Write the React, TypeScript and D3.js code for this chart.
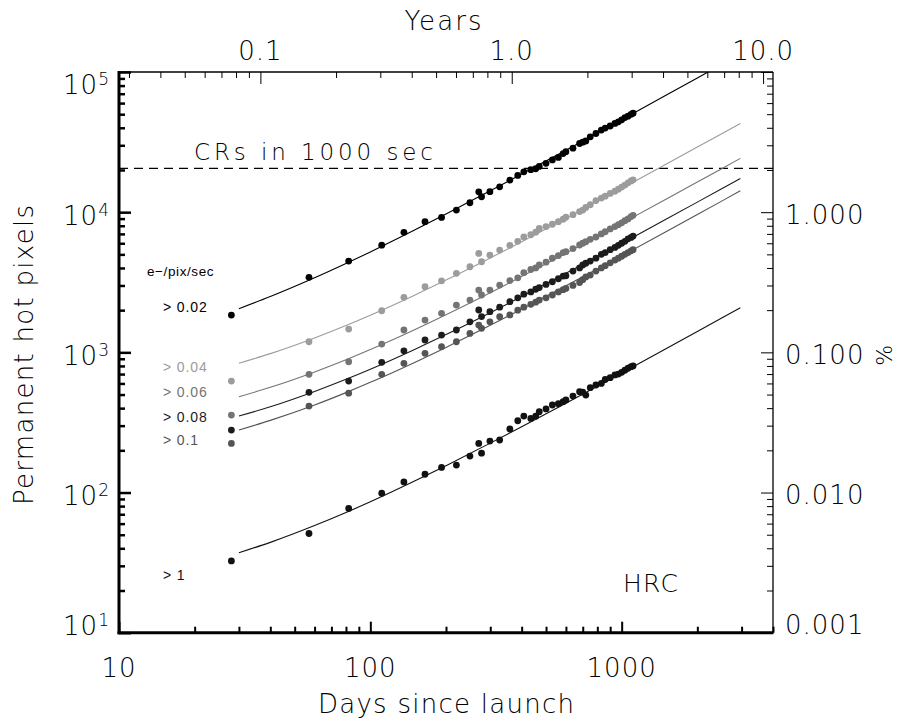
import React, { useEffect, useRef } from 'react';
import * as d3 from 'd3';

// observation epochs (days since launch), shared by all thresholds
const days = [28, 57, 82, 111, 136, 165, 192, 220, 249, 270, 277, 299, 327, 359, 386, 408, 435, 455, 470, 500,
  530, 560, 585, 600, 640, 680, 700, 720, 750, 790, 830, 860, 900, 940, 970, 1000, 1030, 1060, 1090, 1110];

// permanent hot pixel counts per threshold
const hot002 = [1845, 3430, 4480, 5820, 7180, 8550, 9180, 10350, 11670, 13970, 12880, 14000, 15170, 16940, 18300, 19400, 20100, 20400, 21200, 22300,
  23600, 24600, 26200, 27000, 28600, 30900, 31600, 32200, 34500, 36400, 38500, 39800, 41200, 43000, 44100, 45600, 47300, 48400, 49900, 50800];
const hot004 = [624, 1190, 1465, 1980, 2470, 2940, 3240, 3660, 4080, 5080, 4430, 4940, 5370, 5800, 6200, 6650, 6900, 7200, 7650, 7900,
  8200, 8550, 8900, 9200, 9600, 10100, 10350, 10800, 11300, 12100, 12600, 13000, 13600, 14100, 14600, 15100, 15600, 16200, 16700, 17000];
const hot006 = [357, 697, 857, 1146, 1443, 1700, 1897, 2175, 2360, 2780, 2565, 2780, 3020, 3250, 3400, 3700, 3900, 4000, 4200, 4400,
  4690, 4900, 5150, 5230, 5500, 5830, 6000, 6150, 6400, 6650, 7000, 7250, 7600, 7900, 8150, 8400, 8700, 8950, 9300, 9500];
const hot008 = [279, 519, 624, 849, 1026, 1225, 1329, 1443, 1652, 2005, 1800, 1950, 2100, 2300, 2450, 2600, 2700, 2820, 2900, 3050,
  3190, 3350, 3500, 3520, 3800, 4000, 4200, 4320, 4480, 4700, 5000, 5150, 5400, 5600, 5800, 6000, 6200, 6450, 6600, 6750];
const hot01 = [224, 414, 511, 697, 835, 984, 1097, 1190, 1365, 1566, 1483, 1652, 1794, 1850, 2000, 2100, 2200, 2280, 2360, 2450,
  2565, 2700, 2800, 2860, 3000, 3150, 3300, 3450, 3560, 3800, 4000, 4150, 4350, 4550, 4700, 4850, 5000, 5150, 5300, 5400];
const hot1 = [32.5, 51, 77, 99, 119, 135, 151, 157, 182, 224, 191, 233, 237, 284, 325, 351, 338, 350, 377, 395,
  421, 430, 445, 457, 488, 524, 520, 496, 560, 585, 600, 640, 660, 690, 700, 720, 745, 770, 790, 800];

// fitted trend lines, read at these days
const fitDays = [30, 40, 60, 80, 100, 150, 200, 300, 400, 600, 800, 1000, 1500, 2000, 2500, 2966];
const fit002 = [2050, 2500, 3400, 4300, 5200, 7450, 9700, 14200, 18700, 27700, 36700, 45700, 68200, 90700, 113200, 134200];
const fit004 = [836, 979, 1267, 1554, 1841, 2559, 3277, 4713, 6149, 9021, 11893, 14765, 21945, 29125, 36305, 43000];
const fit006 = [482, 563, 725, 886, 1048, 1452, 1856, 2664, 3472, 5088, 6704, 8320, 12360, 16400, 20440, 24200];
const fit008 = [351, 409, 526, 642, 758, 1049, 1339, 1920, 2501, 3663, 4825, 5987, 8892, 11797, 14702, 17410];
const fit01 = [279, 327, 421, 516, 611, 848, 1085, 1559, 2033, 2981, 3929, 4877, 7247, 9617, 11987, 14196];
const fit1 = [37.2, 44.1, 58.1, 72.0, 85.9, 120.7, 155.5, 225.1, 294.7, 433.9, 573.1, 712.3, 1060, 1408, 1756, 2081];

const thresholdLabels = ['> 0.02', '> 0.04', '> 0.06', '> 0.08', '> 0.1', '> 1'];
const bottomTicks = [10, 100, 1000];
const topTicks = [0.1, 1.0, 10.0];
const leftTicks = [10, 100, 1000, 10000, 100000];
const rightTicks = [0.001, 0.01, 0.1, 1];
const crLevel = 20500;
const totalPixels = 1e6;

const W = 903;
const H = 724;
const plot = { left: 119, right: 773, top: 72, bottom: 632.7 };
const colors = ['#000000', '#9c9c9c', '#747474', '#1c1c1c', '#555555', '#111111'];
const labelBase = [311.7, 371.7, 396.5, 421.7, 445, 580];
const font = "'DejaVu Sans', sans-serif";
const smallFont = "'Liberation Sans', Arial, sans-serif";

const App: React.FC = () => {
  const svgRef = useRef<SVGSVGElement>(null);

  useEffect(() => {
    const svg = d3.select(svgRef.current);
    svg.selectAll('*').remove();

    const x = d3.scaleLog().domain([10, 4000]).range([plot.left, plot.right]);
    const xYears = d3.scaleLog().domain([10 / 365.25, 4000 / 365.25]).range([plot.left, plot.right]);
    const y = d3.scaleLog().domain([10, 1e5]).range([plot.bottom, plot.top]);
    const yPct = d3.scaleLog().domain([10 / totalPixels * 100, 1e5 / totalPixels * 100]).range([plot.bottom, plot.top]);

    const isMajor = (v: number) => Math.abs(Math.log10(v) - Math.round(Math.log10(v))) < 1e-6;

    svg.append('defs').append('clipPath').attr('id', 'plotclip')
      .append('rect')
      .attr('x', plot.left).attr('y', plot.top)
      .attr('width', plot.right - plot.left).attr('height', plot.bottom - plot.top);

    // ticks, drawn with d3 axes (labels added separately)
    const addTicks = (axis: any, transform: string, width: number) => {
      const g = svg.append('g').attr('transform', transform).call(axis);
      g.select('.domain').remove();
      g.selectAll('text').remove();
      g.selectAll('line').attr('stroke', '#000').attr('stroke-width', width);
    };
    const split = (ticks: number[]) => [ticks.filter(isMajor), ticks.filter(t => !isMajor(t))];

    const [yMaj, yMin] = split(y.ticks());
    addTicks(d3.axisRight(y).tickValues(yMin).tickSize(6).tickSizeOuter(0), `translate(${plot.left},0)`, 2.5);
    addTicks(d3.axisRight(y).tickValues(yMaj).tickSize(12).tickSizeOuter(0), `translate(${plot.left},0)`, 2.5);

    const [xMaj, xMin] = split(x.ticks());
    addTicks(d3.axisTop(x).tickValues(xMin).tickSize(6).tickSizeOuter(0), `translate(0,${plot.bottom})`, 2);
    addTicks(d3.axisTop(x).tickValues(xMaj).tickSize(11).tickSizeOuter(0), `translate(0,${plot.bottom})`, 2);

    const [tMaj, tMin] = split(xYears.ticks());
    addTicks(d3.axisBottom(xYears).tickValues(tMin).tickSize(6).tickSizeOuter(0), `translate(0,${plot.top})`, 1);
    addTicks(d3.axisBottom(xYears).tickValues(tMaj).tickSize(12).tickSizeOuter(0), `translate(0,${plot.top})`, 1);

    const [pMaj, pMin] = split(yPct.ticks());
    addTicks(d3.axisLeft(yPct).tickValues(pMin).tickSize(6).tickSizeOuter(0), `translate(${plot.right},0)`, 1);
    addTicks(d3.axisLeft(yPct).tickValues(pMaj).tickSize(12).tickSizeOuter(0), `translate(${plot.right},0)`, 1);

    // frame
    const frame = svg.append('g').attr('stroke', '#000');
    frame.append('line').attr('x1', plot.left).attr('x2', plot.left).attr('y1', plot.top - 1).attr('y2', plot.bottom + 1.5).attr('stroke-width', 3);
    frame.append('line').attr('x1', plot.left - 1.5).attr('x2', plot.right + 0.5).attr('y1', plot.bottom).attr('y2', plot.bottom).attr('stroke-width', 3);
    frame.append('line').attr('x1', plot.left).attr('x2', plot.right).attr('y1', plot.top).attr('y2', plot.top).attr('stroke-width', 1.3);
    frame.append('line').attr('x1', plot.right).attr('x2', plot.right).attr('y1', plot.top).attr('y2', plot.bottom).attr('stroke-width', 1.3);

    // cosmic-ray level
    svg.append('line')
      .attr('x1', plot.left).attr('x2', plot.right)
      .attr('y1', y(crLevel)).attr('y2', y(crLevel))
      .attr('stroke', '#000').attr('stroke-width', 1.2).attr('stroke-dasharray', '9,6');
    svg.append('text')
      .attr('x', 194).attr('y', 160)
      .attr('textLength', 239).attr('lengthAdjust', 'spacing')
      .attr('font-family', font).attr('font-size', 23).attr('font-weight', 200)
      .text('CRs in 1000 sec');

    const series = [hot002, hot004, hot006, hot008, hot01, hot1];
    const fits = [fit002, fit004, fit006, fit008, fit01, fit1];

    const line = d3.line<[number, number]>()
      .x(d => x(d[0]))
      .y(d => y(d[1]))
      .curve(d3.curveMonotoneX);

    const dataG = svg.append('g').attr('clip-path', 'url(#plotclip)');
    fits.forEach((f, i) => {
      dataG.append('path')
        .datum(fitDays.map((d, j) => [d, f[j]] as [number, number]))
        .attr('d', line)
        .attr('fill', 'none')
        .attr('stroke', colors[i])
        .attr('stroke-width', 1.1);
    });
    series.forEach((s, i) => {
      dataG.append('g').selectAll('circle')
        .data(days.map((d, j) => [d, s[j]]))
        .enter()
        .append('circle')
        .attr('cx', d => x(d[0]))
        .attr('cy', d => y(d[1]))
        .attr('r', 3.4)
        .attr('fill', colors[i]);
    });

    // legend text
    svg.append('text')
      .attr('x', 147).attr('y', 276)
      .attr('font-family', smallFont).attr('font-size', 13.5)
      .attr('letter-spacing', 0.6)
      .text('e\u2212/pix/sec');
    thresholdLabels.forEach((t, i) => {
      svg.append('text')
        .attr('x', 163).attr('y', labelBase[i])
        .attr('font-family', smallFont).attr('font-size', 14)
        .attr('letter-spacing', 0.9)
        .attr('fill', colors[i])
        .text(t);
    });

    svg.append('text')
      .attr('x', 623).attr('y', 591.5)
      .attr('textLength', 55).attr('lengthAdjust', 'spacing')
      .attr('font-family', font).attr('font-size', 25).attr('font-weight', 200)
      .text('HRC');

    // tick labels
    const tickText = (g: any) => g
      .attr('font-family', font).attr('font-size', 26).attr('font-weight', 200)
      .attr('letter-spacing', 1).attr('fill', '#000');

    bottomTicks.forEach(v => {
      tickText(svg.append('text'))
        .attr('x', x(v)).attr('y', 677).attr('text-anchor', 'middle')
        .text(String(v));
    });
    topTicks.forEach(v => {
      tickText(svg.append('text'))
        .attr('x', xYears(v)).attr('y', 60).attr('text-anchor', 'middle')
        .text(d3.format('.1f')(v));
    });
    leftTicks.forEach(v => {
      const shift = v === 1e5 ? 22 : v === 10 ? 2.5 : 12.7;
      const t = tickText(svg.append('text'))
        .attr('x', 109).attr('y', y(v) + shift).attr('text-anchor', 'end');
      t.append('tspan').text('10');
      t.append('tspan').attr('font-size', 17).attr('dy', -9).attr('letter-spacing', 0)
        .text(String(Math.round(Math.log10(v))));
    });
    rightTicks.forEach(v => {
      const shift = v === 0.001 ? 1.5 : 11.5;
      tickText(svg.append('text'))
        .attr('x', 785).attr('y', yPct(v) + shift)
        .text(d3.format('.3f')(v));
    });
    svg.append('text')
      .attr('transform', `translate(884,${yPct(0.1) + 3}) rotate(-90)`)
      .attr('text-anchor', 'middle').attr('dominant-baseline', 'central')
      .attr('font-family', font).attr('font-size', 22).attr('font-weight', 200)
      .text('%');

    // axis titles
    svg.append('text')
      .attr('x', 446).attr('y', 713).attr('text-anchor', 'middle')
      .attr('textLength', 256).attr('lengthAdjust', 'spacing')
      .attr('font-family', font).attr('font-size', 26).attr('font-weight', 200)
      .text('Days since launch');
    svg.append('text')
      .attr('x', 443).attr('y', 30).attr('text-anchor', 'middle')
      .attr('textLength', 77).attr('lengthAdjust', 'spacing')
      .attr('font-family', font).attr('font-size', 26).attr('font-weight', 200)
      .text('Years');
    svg.append('text')
      .attr('transform', 'translate(33,355) rotate(-90)')
      .attr('text-anchor', 'middle')
      .attr('textLength', 300).attr('lengthAdjust', 'spacing')
      .attr('font-family', font).attr('font-size', 26).attr('font-weight', 200)
      .text('Permanent hot pixels');
  }, []);

  return (
    <svg
      ref={svgRef}
      width={W}
      height={H}
      style={{ position: 'absolute', left: 0, top: 0, background: '#fff' }}
    />
  );
};

export default App;
